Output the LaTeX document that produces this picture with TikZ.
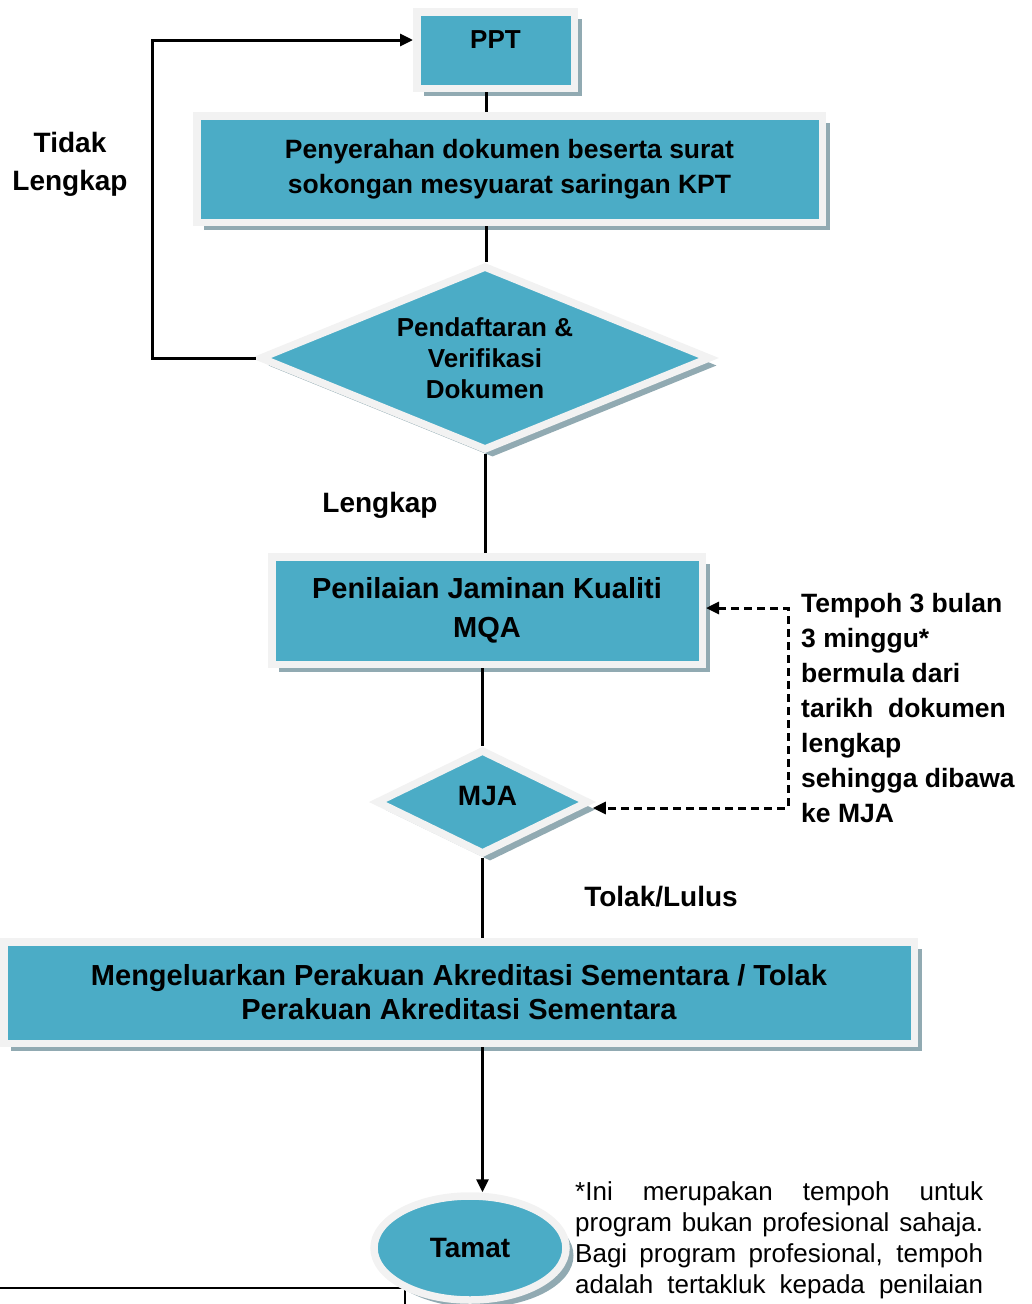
\documentclass[tikz,border=0pt]{standalone}
\usepackage{fontspec}
\setmainfont{Liberation Sans}
\usetikzlibrary{arrows.meta,positioning,shapes.geometric,shadows}
\definecolor{boxfill}{RGB}{75,172,198}
\definecolor{framegray}{RGB}{242,242,242}
\definecolor{shadegray}{RGB}{145,170,178}
\newcommand{\setfs}[2]{\fontsize{#1pt}{#2pt}\selectfont}

\begin{document}
\begin{tikzpicture}[x=1pt,y=-1pt,
  box/.style={draw=framegray,line width=7.5pt,fill=boxfill,align=center,inner sep=0pt,drop shadow={shadow xshift=7.5pt,shadow yshift=-7.5pt,fill=shadegray,opacity=1}},
  dia/.style={box,diamond},
  lbl/.style={align=center,inner sep=0pt},
  link/.style={line width=3pt},
  tip/.style={-{Triangle[length=13pt,width=12pt]}},
  arr/.style={link,tip}]
\useasboundingbox (0,0) rectangle (1031,1304);
% flow boxes
\node[box,minimum width=157.5pt,minimum height=76.5pt,text depth=20pt,font=\bfseries\setfs{26}{31}] (ppt) at (495.5,50) {PPT};
\node[box,minimum width=625.5pt,minimum height=106.5pt,font=\bfseries\setfs{26.5}{35}] (sub) at (509.5,169) {Penyerahan dokumen beserta surat\\sokongan mesyuarat saringan KPT};
\node[dia,aspect=2.4,minimum width=451pt,minimum height=185pt,font=\bfseries\setfs{26}{31}] (verif) at (485,358) {Pendaftaran \&\\Verifikasi\\Dokumen};
\node[box,minimum width=430.5pt,minimum height=107.5pt,font=\bfseries\setfs{29}{39}] (mqa) at (487,610.5) {Penilaian Jaminan Kualiti\\MQA};
\node[dia,aspect=2,minimum width=213pt,minimum height=105pt,text depth=12pt,font=\bfseries\setfs{28}{34}] (mja) at (482.5,802) {\hspace*{10pt}MJA};
\node[box,minimum width=910.5pt,minimum height=101.5pt,font=\bfseries\setfs{29}{34}] (sah) at (459,992.5) {Mengeluarkan Perakuan Akreditasi Sementara / Tolak\\Perakuan Akreditasi Sementara};
\draw[line width=1.5pt] (0,1288) -- (405,1288) -- (405,1304);
\node[box,ellipse,minimum width=192pt,minimum height=104pt,font=\bfseries\setfs{28}{34}] (tamat) at (470,1248) {Tamat};
% labels
\node[lbl,font=\bfseries\setfs{28}{38}] (tidak) at (70,164) {Tidak\\Lengkap};
\node[lbl,font=\bfseries\setfs{28}{34}] (lengkap) at (380,505) {Lengkap};
\node[lbl,font=\bfseries\setfs{28}{34}] (keputusan) at (661,897) {Tolak/Lulus};
\node[lbl,align=left,anchor=west,font=\bfseries\setfs{26.5}{35}] (tempoh) at (801,708) {Tempoh 3 bulan\\3 minggu*\\bermula dari\\tarikh\ \ dokumen\\lengkap\\sehingga dibawa\\ke MJA};
\node[inner sep=0pt,anchor=north west,text width=408pt,align=justify,font=\setfs{26}{31}] (nota) at (575,1181) {*Ini merupakan tempoh untuk\linebreak program bukan profesional sahaja.\linebreak Bagi program profesional, tempoh\linebreak adalah tertakluk kepada penilaian\linebreak};
% connectors
\coordinate (spine) at (486,0);
\coordinate (balik) at (152,40);
\coordinate (tempohc) at (788,608);
\draw[link] (ppt.south -| spine) -- (sub.north -| spine);
\draw[link] (sub.south -| spine) -- (verif.north -| spine);
\draw[link] (verif.south) -- (mqa.north -| verif.south);
\draw[link] (mqa.south -| mja.north) -- (mja.north);
\draw[link] (mja.south) -- (sah.north -| mja.south);
\draw[arr] (sah.south -| mja.south) -- (tamat.north -| mja.south);
\draw[arr] (verif.west) -| (balik) -- (balik -| ppt.west);
\draw[link,dash pattern=on 8pt off 5pt,{Triangle[length=13pt,width=12pt]}-{Triangle[length=13pt,width=12pt]}] (tempohc -| mqa.east) -- (tempohc) |- ([yshift=-6pt]mja.east);
\end{tikzpicture}
\end{document}
